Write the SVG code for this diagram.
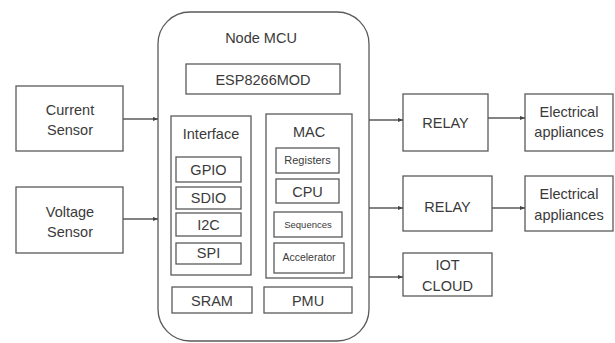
<svg xmlns="http://www.w3.org/2000/svg" width="615" height="343" viewBox="0 0 615 343">
<style>
.b{fill:#fff;stroke:#5a5a5a;stroke-width:1.3}
.t{font-family:"Liberation Sans",Arial,sans-serif;font-size:14.5px;fill:#3a3a3a;text-anchor:middle}
.s{font-size:11px}
.c{stroke:#5a5a5a;stroke-width:1.3;fill:none;marker-end:url(#a)}
</style>
<defs>
<marker id="a" viewBox="0 0 6 6" refX="6" refY="3" markerWidth="5" markerHeight="5" orient="auto" markerUnits="userSpaceOnUse">
<path d="M0,0.5 L6,3 L0,5.5 z" fill="#444"/>
</marker>
</defs>
<rect width="615" height="343" fill="#fff"/>
<g id="nodemcu">
<rect class="b" x="158" y="12" width="211" height="329" rx="32" ry="32"/>
<text class="t" x="261" y="43">Node MCU</text>
</g>
<g id="esp"><rect class="b" x="186" y="64" width="154" height="30"/><text class="t" x="263" y="85">ESP8266MOD</text></g>
<g id="current"><rect class="b" x="16" y="86" width="107" height="65"/><text class="t" x="70" y="115">Current</text><text class="t" x="70" y="135">Sensor</text></g>
<g id="voltage"><rect class="b" x="16" y="187" width="107" height="66"/><text class="t" x="70" y="217">Voltage</text><text class="t" x="70" y="237">Sensor</text></g>
<g id="interface"><rect class="b" x="171" y="116" width="80" height="159"/><text class="t" x="211" y="139">Interface</text></g>
<g id="gpio"><rect class="b" x="176" y="157" width="65" height="25"/><text class="t" x="208.5" y="175">GPIO</text></g>
<g id="sdio"><rect class="b" x="176" y="187" width="65" height="22"/><text class="t" x="208.5" y="203">SDIO</text></g>
<g id="i2c"><rect class="b" x="176" y="213" width="65" height="23"/><text class="t" x="208.5" y="230">I2C</text></g>
<g id="spi"><rect class="b" x="176" y="243" width="65" height="21"/><text class="t" x="208.5" y="258">SPI</text></g>
<g id="mac"><rect class="b" x="266" y="114" width="86" height="164"/><text class="t" x="309" y="137">MAC</text></g>
<g id="registers"><rect class="b" x="276" y="148" width="63" height="25"/><text class="t s" x="307.5" y="164">Registers</text></g>
<g id="cpu"><rect class="b" x="276" y="179" width="63" height="24"/><text class="t" x="307.5" y="197">CPU</text></g>
<g id="sequences"><rect class="b" x="274" y="212" width="68" height="25"/><text class="t" x="308" y="228" style="font-size:9.5px">Sequences</text></g>
<g id="accelerator"><rect class="b" x="274" y="243" width="70" height="30"/><text class="t" x="309" y="261" style="font-size:10.5px">Accelerator</text></g>
<g id="sram"><rect class="b" x="172" y="287" width="80" height="26"/><text class="t" x="212" y="306">SRAM</text></g>
<g id="pmu"><rect class="b" x="264" y="287" width="88" height="26"/><text class="t" x="308" y="306">PMU</text></g>
<g id="relay1"><rect class="b" x="403" y="94" width="85" height="57"/><text class="t" x="445.5" y="128">RELAY</text></g>
<g id="elec1"><rect class="b" x="525" y="94" width="88" height="57"/><text class="t" x="569" y="117">Electrical</text><text class="t" x="569" y="137">appliances</text></g>
<g id="relay2"><rect class="b" x="403" y="176" width="89" height="55"/><text class="t" x="447.5" y="212">RELAY</text></g>
<g id="elec2"><rect class="b" x="525" y="176" width="88" height="55"/><text class="t" x="569" y="199">Electrical</text><text class="t" x="569" y="220">appliances</text></g>
<g id="iot"><rect class="b" x="403" y="253" width="89" height="43"/><text class="t" x="447.5" y="270">IOT</text><text class="t" x="447.5" y="291">CLOUD</text></g>
<g id="connectors">
<line class="c" x1="123" y1="119" x2="158" y2="119"/>
<line class="c" x1="123" y1="219" x2="158" y2="219"/>
<line class="c" x1="369" y1="120" x2="403" y2="120"/>
<line class="c" x1="488" y1="118" x2="525" y2="118"/>
<line class="c" x1="369" y1="208" x2="403" y2="208"/>
<line class="c" x1="492" y1="208" x2="525" y2="208"/>
<line class="c" x1="369" y1="277" x2="403" y2="277"/>
</g>
</svg>
